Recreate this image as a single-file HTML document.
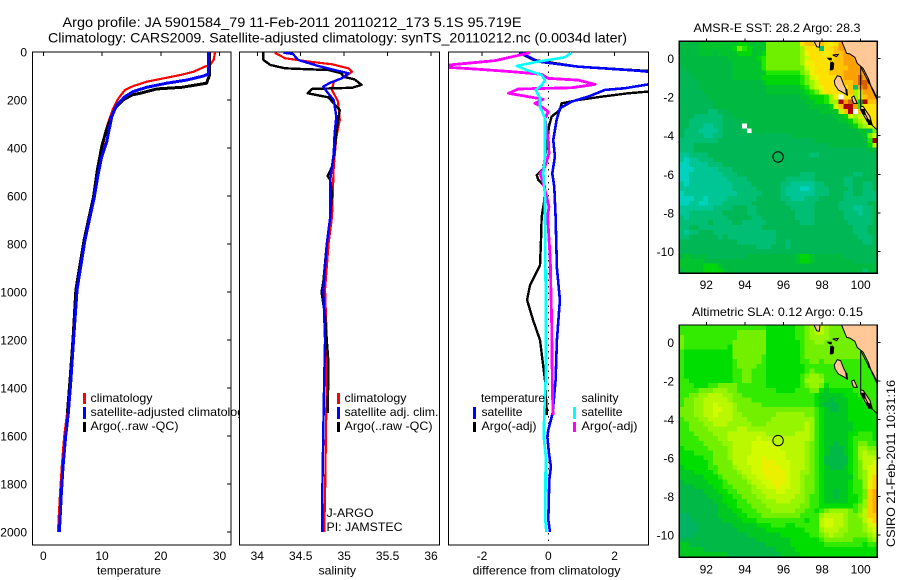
<!DOCTYPE html>
<html lang="en">
<head>
<meta charset="utf-8">
<title>Argo profile</title>
<style>
html,body{margin:0;padding:0;background:#fff;}
svg{display:block;font-family:"Liberation Sans",sans-serif;fill:#000;}
text{font-size:12px;}
.t{font-size:14px;}
</style>
</head>
<body>
<svg id="chart" width="900" height="580" viewBox="0 0 900 580" xmlns="http://www.w3.org/2000/svg">
<defs>
<clipPath id="clipT"><rect x="33" y="52" width="198" height="493"/></clipPath>
<clipPath id="clipS"><rect x="240" y="52" width="199" height="493"/></clipPath>
<clipPath id="clipD"><rect x="449" y="52" width="199" height="493"/></clipPath>
<clipPath id="clipLeg"><rect x="0" y="380" width="239" height="60"/></clipPath>
</defs>
<text class="t" x="62.5" y="27" textLength="459" lengthAdjust="spacingAndGlyphs">Argo profile: JA 5901584_79 11-Feb-2011 20110212_173 5.1S 95.719E</text>
<text class="t" x="48" y="42.5" textLength="579" lengthAdjust="spacingAndGlyphs">Climatology: CARS2009. Satellite-adjusted climatology: synTS_20110212.nc (0.0034d later)</text>
<g id="marks"></g>

<g clip-path="url(#clipLeg)">
<rect x="83" y="393" width="3" height="11" fill="#f00"/>
<rect x="83" y="407" width="3" height="12" fill="#00f"/>
<rect x="83" y="422" width="3" height="10" fill="#000"/>
<text x="90.5" y="402" textLength="62" lengthAdjust="spacingAndGlyphs">climatology</text>
<text x="90.5" y="416" textLength="160" lengthAdjust="spacingAndGlyphs">satellite-adjusted climatology</text>
<text x="90.5" y="430" textLength="88" lengthAdjust="spacingAndGlyphs">Argo(..raw -QC)</text>
</g>
<g>
<rect x="337" y="393" width="3" height="11" fill="#f00"/>
<rect x="337" y="407" width="3" height="12" fill="#00f"/>
<rect x="337" y="422" width="3" height="10" fill="#000"/>
<text x="344.5" y="402" textLength="62" lengthAdjust="spacingAndGlyphs">climatology</text>
<text x="344.5" y="416" textLength="94" lengthAdjust="spacingAndGlyphs">satellite adj. clim.</text>
<text x="344.5" y="430" textLength="88" lengthAdjust="spacingAndGlyphs">Argo(..raw -QC)</text>
<text x="326.5" y="517" textLength="47" lengthAdjust="spacingAndGlyphs">J-ARGO</text>
<text x="326.5" y="531" textLength="76" lengthAdjust="spacingAndGlyphs">PI: JAMSTEC</text>
</g>
<g>
<text x="481" y="402" textLength="64" lengthAdjust="spacingAndGlyphs">temperature</text>
<rect x="473" y="407" width="3" height="12" fill="#00f"/>
<rect x="473" y="422" width="3" height="10" fill="#000"/>
<text x="481.5" y="416" textLength="41" lengthAdjust="spacingAndGlyphs">satellite</text>
<text x="481.5" y="430" textLength="55" lengthAdjust="spacingAndGlyphs">Argo(-adj)</text>
<text x="581.5" y="402" textLength="37" lengthAdjust="spacingAndGlyphs">salinity</text>
<rect x="573" y="407" width="3" height="12" fill="#0ff"/>
<rect x="573" y="422" width="3" height="10" fill="#f0f"/>
<text x="581.5" y="416" textLength="41" lengthAdjust="spacingAndGlyphs">satellite</text>
<text x="581.5" y="430" textLength="56" lengthAdjust="spacingAndGlyphs">Argo(-adj)</text>
</g>

<text x="97" y="574.5" textLength="64" lengthAdjust="spacingAndGlyphs">temperature</text>
<text x="318.5" y="574.5" textLength="37.5" lengthAdjust="spacingAndGlyphs">salinity</text>
<text x="472.5" y="574.5" textLength="148" lengthAdjust="spacingAndGlyphs">difference from climatology</text>
<text x="693.5" y="32" textLength="167" lengthAdjust="spacingAndGlyphs">AMSR-E SST: 28.2 Argo: 28.3</text>
<text x="692" y="316" textLength="171" lengthAdjust="spacingAndGlyphs">Altimetric SLA: 0.12 Argo: 0.15</text>
<text transform="translate(895,547) rotate(-90)" textLength="167" lengthAdjust="spacingAndGlyphs">CSIRO 21-Feb-2011 10:31:16</text>
</svg>
<script>
/* ---------- shared axes ---------- */
const depthTicks = [0,200,400,600,800,1000,1200,1400,1600,1800,2000];
const tempTicks = [0,10,20,30];
const salTicks = [34,34.5,35,35.5,36];
const salTickLabels = ['34','34.5','35','35.5','36'];
const diffTicks = [-2,0,2];
const lonTicks = [92,94,96,98,100];
const latTicks = [0,-2,-4,-6,-8,-10];

/* ---------- temperature profiles ---------- */
const tempClimDepth = [0,33,54,61,82,96,110,124,142,158,193,235,290,339,436,505,603,783,990,1200,1367,1505,1603,1727,1840,1951,2000];
const tempClimValues = [29.25,29,28.4,27.5,25.6,23.3,20.4,17.6,15.3,13.9,12.8,11.9,11.1,10.5,9.9,9.2,8.5,7,5.6,5,4.5,4.05,3.55,3.15,2.85,2.6,2.5];
const tempSatDepth = [0,92,100,117,130,147,165,186,221,270,374,436,505,603,783,990,1200,1367,1505,1603,1727,1840,1951,2000];
const tempSatValues = [28.1,28.1,27.3,24.4,21,17.6,15.3,13.9,12.5,11.65,10.8,9.95,9.37,8.7,7.1,5.75,5.15,4.7,4.26,3.8,3.36,3.07,2.84,2.73];
const tempArgoDepth = [0,96,130,147,154,172,179,200,235,283,319,394,492,603,783,990,1200,1367,1505];
const tempArgoValues = [28.3,28.3,27.8,23.6,19.3,16.5,15.1,13.6,12.2,11.4,10.8,9.95,9.2,8.55,6.95,5.55,5.05,4.55,4.1];

/* ---------- salinity profiles ---------- */
const salClimDepth = [3,26,40,51,68,82,103,124,158,207,283,353,478,686,800,990,1200,1367,1600,1850,2000];
const salClimValues = [34.2,34.32,34.59,34.86,35.05,35.09,35.01,34.88,34.86,34.93,34.95,34.91,34.88,34.86,34.82,34.78,34.8,34.8,34.79,34.78,34.77];
const salSatDepth = [3,8,33,58,82,89,110,128,144,165,200,269,339,422,478,533,686,800,990,1200,1367,1575,1800,2000];
const salSatValues = [34.3,34.41,34.47,34.7,34.97,35.05,34.97,34.84,34.76,34.8,34.88,34.91,34.89,34.88,34.86,34.84,34.84,34.8,34.76,34.78,34.77,34.76,34.75,34.75];
const salArgoDepth = [3,33,54,68,72,75,89,103,114,137,149,154,172,189,214,242,283,339,408,478,517,533,589,686,800,960,1000,1100,1300,1505];
const salArgoValues = [34.07,34.07,34.15,34.32,34.59,34.82,34.97,34.99,35.12,35.2,35.09,34.63,34.58,34.82,34.88,34.95,34.93,34.91,34.89,34.86,34.81,34.84,34.86,34.84,34.8,34.76,34.74,34.78,34.82,34.81];

/* ---------- differences from climatology ---------- */
const diffTempSatDepth = [3,40,61,78,82,100,120,135,151,158,186,207,235,283,367,436,506,561,686,900,1033,1200,1367,1505,1575,1603,1672,1728,1783,1950,2000];
const diffTempSatValues = [-0.85,-0.3,0.9,2.71,3.01,5,4,3.01,2.31,1.71,1.2,0.7,0.35,0.25,0.15,0.2,0.12,0.18,0.22,0.26,0.35,0.26,0.22,0.13,0,-0.03,0.02,0.08,0.03,0,0.05];
const diffTempArgoDepth = [3,33,61,79,100,130,165,172,186,200,214,242,269,311,394,436,485,513,533,561,617,686,783,888,971,1033,1117,1200,1367,1512];
const diffTempArgoValues = [-0.88,-0.45,0.9,3.01,5,6,3.01,2.41,1.61,0.9,0.4,0.35,0.1,0.02,-0.05,-0.1,-0.15,-0.35,-0.3,-0.1,-0.12,-0.2,-0.22,-0.25,-0.55,-0.64,-0.46,-0.25,-0.1,-0.04];
const diffSalSatDepth = [3,22,40,58,75,96,117,138,158,193,228,276,367,436,506,603,686,1000,1367,1500,1600,1680,1950,2000];
const diffSalSatValues = [0.7,0.5,-0.3,-0.95,-0.65,-0.2,-0.1,-0.2,-0.38,-0.25,-0.25,-0.1,-0.1,-0.1,-0.15,-0.1,-0.1,-0.08,-0.08,-0.12,-0.14,-0.08,-0.09,-0.06];
const diffSalArgoDepth = [3,36,54,64,72,82,93,110,117,135,149,154,172,197,214,228,249,276,367,422,478,506,547,603,644,686,870,1000,1117,1367,1512];
const diffSalArgoValues = [-0.55,-1.61,-2.99,-2.99,-2.11,-1.1,-0.2,0,0.9,1.41,0.7,-0.9,-1.2,-0.15,-0.4,-0.2,0,-0.1,0,0.02,-0.1,-0.25,-0.15,-0.05,0.02,-0.02,0.06,0.08,0.1,0.12,0.14];

/* ---------- map colour levels (−1 = missing, drawn white) ---------- */
const levelColors = ['#00d2be','#00c696','#00be73','#00b755','#00b941','#00c32d','#00d70a','#1ee800','#6ef000','#a0f500','#cdfa00','#f0f000','#ffe100','#ffc300','#faa000','#d75f00','#af0000'];
const slaLevelColors = ['#00d2be','#00c696','#00be73','#00b464','#00b946','#00c823','#00de00','#32eb00','#73f000','#96f500','#b9f800','#d2fa00','#ebf000','#ffcd00','#ffaa00','#d75f00','#af0000'];

const sstGrid = [
[4,4,4,4,5,5,5,5,5,5,5,5,6,6,5,5,5,5,8,8,8,8,8,8,8,12,13,13,12,13,12,11,12,14,14,14,14,14,14,14,14],
[4,4,4,4,5,5,5,5,5,5,5,6,8,7,6,5,5,5,8,8,8,8,8,8,8,9,12,12,12,2,12,12,13,14,14,14,14,14,14,14,14],
[4,4,4,4,5,5,5,4,5,5,5,5,6,6,6,5,5,6,8,8,8,8,8,8,8,9,11,12,12,12,11,12,13,13,14,14,14,14,14,14,14],
[4,4,4,4,4,4,4,4,4,4,5,5,5,5,5,5,6,7,8,8,8,8,8,8,8,9,10,12,12,12,12,12,13,13,14,14,14,14,14,14,14],
[4,4,4,4,4,4,4,4,4,4,4,5,5,5,5,5,5,7,8,8,8,8,8,8,8,9,11,11,12,12,12,12,13,13,14,14,14,14,14,14,14],
[3,4,4,4,4,4,4,4,4,4,4,5,5,5,5,5,5,7,8,8,8,8,8,8,8,8,10,11,12,12,12,12,13,13,13,14,14,14,14,14,14],
[3,3,4,4,4,4,4,4,4,4,4,5,5,5,5,5,5,5,7,7,7,7,7,7,7,8,9,11,12,12,12,13,13,13,14,14,14,14,14,14,14],
[3,3,3,4,4,4,4,4,4,4,4,5,5,5,5,5,5,6,6,6,6,6,6,6,6,7,8,10,11,12,12,12,12,13,14,14,14,15,14,14,14],
[3,3,3,3,4,4,4,4,4,4,4,4,4,4,4,4,4,5,6,6,6,6,6,6,6,7,8,9,10,12,12,12,12,13,13,13,14,15,15,14,14],
[3,3,3,3,4,4,4,4,4,4,4,4,4,4,4,4,4,4,5,5,5,5,5,5,5,6,7,9,10,11,12,12,12,12,12,13,2,14,15,14,14],
[3,3,3,3,3,4,4,4,4,4,4,4,4,4,4,4,4,4,5,5,5,5,5,5,5,5,6,7,8,10,12,12,12,12,12,13,9,10,14,14,14],
[3,3,3,3,3,3,4,4,4,4,4,4,4,4,4,4,4,4,4,4,4,4,4,4,4,5,5,6,6,6,7,9,11,-1,12,12,9,10,13,14,14],
[3,3,3,3,3,3,3,4,4,4,4,4,4,4,4,4,4,4,4,4,4,4,4,4,4,4,5,5,6,6,7,9,9,16,14,15,14,5,16,13,13],
[3,3,3,3,3,3,3,4,4,4,4,4,4,4,4,4,4,4,4,4,4,4,4,4,4,4,4,5,5,5,5,6,10,13,16,16,14,7,12,12,12],
[3,3,3,3,3,3,2,2,3,3,4,4,4,4,4,4,4,4,4,4,4,4,4,4,4,4,4,4,4,5,5,5,5,10,13,16,-1,13,12,12,12],
[3,3,3,2,2,2,2,2,2,3,3,4,4,4,4,4,4,4,4,4,4,4,4,4,4,4,4,4,4,4,4,4,5,5,6,10,9,10,12,12,12],
[3,3,2,2,2,2,2,2,2,3,3,3,3,4,4,4,4,4,4,4,4,4,4,4,4,4,4,4,4,4,4,4,4,5,5,6,8,9,10,11,12],
[3,3,2,2,2,1,1,2,2,3,3,3,3,-1,4,4,4,4,4,4,4,4,4,4,4,4,4,4,4,4,4,4,4,4,4,5,6,8,9,10,12],
[3,2,2,2,1,1,1,1,2,3,3,3,3,3,-1,4,4,4,4,4,4,4,4,4,4,4,4,4,4,4,4,4,4,4,4,4,4,5,5,3,8],
[3,2,2,2,2,1,1,2,2,3,3,3,3,3,3,3,3,3,3,3,3,3,3,4,4,4,4,4,4,4,4,4,4,4,4,4,4,4,5,8,10],
[2,2,2,2,2,2,2,2,3,3,3,3,3,3,3,3,3,3,3,3,3,3,3,3,3,3,3,3,4,4,4,4,4,4,4,4,4,4,4,7,16],
[2,2,2,3,3,3,3,3,3,3,3,3,3,3,3,3,3,3,3,3,3,3,3,3,3,3,3,3,3,3,3,4,4,4,4,4,4,4,4,6,10],
[2,2,2,3,3,3,3,3,3,3,3,3,3,3,3,3,3,3,3,3,3,3,3,3,3,3,3,3,3,3,3,3,3,3,3,3,3,3,3,4,4],
[1,1,2,2,2,2,3,3,3,3,3,3,3,3,3,3,3,3,3,3,3,3,3,3,3,3,3,2,2,3,3,3,3,3,3,3,3,3,3,3,3],
[1,0,1,1,2,2,2,3,3,3,3,3,3,3,3,3,3,3,3,3,3,3,3,3,3,3,3,3,3,3,3,3,3,3,3,3,3,3,3,3,3],
[0,0,1,1,1,1,2,2,2,3,3,3,3,3,3,3,3,3,3,3,3,3,3,3,3,3,3,3,3,3,3,3,3,3,3,3,3,3,3,3,3],
[0,0,0,1,1,1,1,1,2,2,2,3,3,3,3,3,3,3,3,3,3,3,3,3,3,3,3,3,3,3,3,3,3,3,3,3,3,3,3,3,3],
[0,0,1,1,1,1,1,1,1,2,2,2,3,3,3,3,3,3,3,3,3,3,3,3,3,2,2,2,3,3,3,3,3,3,3,3,2,2,3,3,3],
[0,0,1,1,1,1,1,1,1,1,2,2,2,2,3,3,3,3,3,3,3,3,2,2,2,2,2,2,3,3,3,3,3,3,2,2,3,3,3,3,3],
[1,0,1,1,1,1,1,1,1,1,1,2,2,2,2,3,3,3,3,3,3,2,2,1,1,1,1,1,2,2,3,3,3,3,2,2,3,3,2,2,3],
[1,1,1,1,1,1,1,1,1,1,1,2,2,2,2,2,3,3,3,3,3,2,1,1,1,0,0,1,2,2,2,3,3,3,3,2,3,3,2,2,3],
[0,1,1,1,1,1,1,1,1,1,1,1,2,2,2,2,2,3,3,3,3,2,1,1,1,1,1,1,2,2,2,3,3,3,2,2,3,3,2,2,2],
[0,0,0,1,1,0,1,1,1,1,2,2,2,2,2,2,3,3,3,3,3,2,2,1,1,1,2,2,2,3,3,3,3,3,2,2,2,2,2,2,2],
[0,0,1,1,0,0,1,1,1,2,2,2,2,2,2,3,3,3,3,3,3,3,2,2,2,2,2,2,3,3,3,3,3,2,2,2,2,2,2,3,3],
[1,1,1,1,1,1,1,2,2,2,2,3,3,3,2,2,3,3,3,3,3,3,3,2,2,2,2,2,3,3,3,3,3,2,2,2,1,1,2,2,3],
[1,1,2,2,2,2,2,2,2,3,3,3,3,3,2,2,3,3,3,3,3,3,3,3,2,2,2,2,3,3,3,3,3,3,2,2,2,1,2,2,3],
[2,1,2,2,2,2,2,2,2,2,3,3,3,3,3,2,2,3,3,3,3,3,3,3,2,2,2,2,3,3,3,3,3,3,2,2,2,2,2,2,3],
[2,2,2,2,2,2,3,2,2,2,2,3,3,2,2,2,2,2,3,3,3,3,3,3,3,2,2,2,3,3,3,3,3,3,3,2,2,2,2,2,3],
[2,2,3,3,2,2,2,2,2,2,2,2,2,2,2,2,2,3,3,3,3,3,3,3,3,3,3,3,3,3,3,3,3,3,3,3,2,2,2,3,3],
[2,1,2,2,3,3,3,2,2,2,2,2,2,2,2,2,2,2,2,2,3,3,3,3,3,3,3,3,3,3,3,3,3,3,3,3,2,2,2,3,3],
[2,2,3,3,3,3,3,3,2,3,2,2,2,2,2,2,2,2,2,2,3,3,3,3,3,3,3,3,3,3,3,3,3,3,3,3,3,2,2,2,3],
[3,3,3,3,3,3,3,3,3,3,3,3,2,2,2,2,2,2,2,2,3,3,2,3,3,3,3,3,3,3,3,3,3,3,3,3,3,3,2,2,3],
[3,3,3,3,3,3,3,3,3,3,3,3,3,3,3,3,2,2,2,3,3,3,2,3,3,3,3,3,3,3,3,3,3,3,3,3,3,3,3,3,3],
[3,3,3,3,3,3,3,3,3,3,3,3,3,3,3,3,3,3,3,3,3,3,3,3,3,3,3,3,3,3,3,3,3,3,3,3,3,3,3,3,3],
[4,5,4,4,4,4,3,3,3,3,3,3,3,3,4,4,4,4,4,4,4,4,4,4,5,6,6,5,4,4,4,4,4,4,3,3,3,3,3,3,3],
[5,5,5,5,5,4,4,4,4,4,4,4,4,4,4,4,4,4,4,4,4,4,4,4,5,6,6,5,4,4,4,4,4,4,4,4,3,3,3,3,3],
[5,5,5,5,5,6,6,6,5,4,4,4,4,4,4,4,4,4,4,4,4,4,4,4,4,4,4,4,4,4,4,4,4,4,4,4,4,4,4,4,4],
[4,5,5,5,5,6,6,6,6,5,4,4,4,4,4,4,4,4,4,4,4,4,4,4,4,4,4,4,4,4,4,4,4,4,4,4,4,4,2,4,4]
];

const slaGrid = [
[7,7,7,7,7,7,7,7,7,7,7,7,7,7,7,7,7,7,6,6,6,6,6,6,7,7,8,9,9,10,9,8,8,8,8,8,8,8,8,8,8],
[7,7,7,7,7,7,7,7,7,7,7,7,8,8,8,8,8,8,6,6,6,6,6,6,7,7,8,9,10,10,9,8,8,8,8,8,8,8,8,8,8],
[8,7,7,7,7,7,7,7,7,7,7,7,8,8,8,8,8,8,6,6,6,6,6,6,7,7,8,9,9,9,9,8,8,8,8,8,8,8,8,8,8],
[8,7,7,7,7,7,7,7,7,7,7,8,8,8,8,8,8,8,6,6,6,6,6,6,6,7,8,8,9,9,8,8,8,8,8,8,8,8,8,8,8],
[8,7,7,7,7,7,7,7,7,7,6,8,8,8,8,8,8,8,6,6,6,6,6,6,6,7,8,8,8,8,8,8,8,8,8,8,8,8,8,8,8],
[7,6,6,6,6,6,6,6,6,6,6,8,8,8,8,8,8,8,6,6,6,6,6,6,6,7,8,8,8,8,8,8,8,8,8,8,8,8,8,8,8],
[7,6,6,6,6,6,6,6,6,6,6,8,8,8,8,8,8,7,6,6,6,6,6,6,6,7,8,8,8,8,8,8,8,8,8,8,8,8,8,8,8],
[7,6,6,6,6,6,6,6,6,6,6,7,8,8,8,8,8,7,6,6,6,6,6,6,6,7,7,8,8,7,8,8,8,7,7,7,7,7,7,7,7],
[7,6,6,6,6,6,6,6,6,6,6,7,8,8,8,8,7,7,6,6,6,6,6,6,6,6,7,7,7,7,7,7,7,7,7,7,7,7,7,7,7],
[7,6,6,6,6,6,6,6,6,6,6,7,7,8,8,7,7,7,6,6,6,6,6,6,6,6,7,8,7,7,7,7,7,7,7,7,7,7,7,7,7],
[7,6,6,6,6,6,6,6,6,6,6,7,7,8,8,7,7,7,6,6,6,6,6,6,6,7,8,9,9,8,7,7,7,7,7,7,7,7,7,7,7],
[7,7,6,6,6,6,6,6,6,6,6,7,7,8,8,7,7,7,6,6,6,6,6,6,6,7,9,9,9,9,7,7,7,7,7,7,7,7,7,7,7],
[7,7,7,6,6,6,7,7,8,8,8,8,7,7,7,7,7,7,6,6,6,6,6,6,6,7,8,9,9,8,6,7,7,7,7,7,7,7,7,7,7],
[7,7,7,7,8,8,8,9,9,9,8,8,7,7,7,7,7,7,7,7,6,6,6,6,7,7,7,8,8,6,5,6,6,6,6,6,7,7,7,7,7],
[7,7,8,8,9,9,10,10,10,9,9,8,8,7,7,7,7,7,7,7,7,7,7,7,7,7,7,7,6,5,5,5,5,5,6,6,6,7,7,7,7],
[7,8,8,9,9,10,10,10,10,10,9,8,8,8,8,7,7,7,7,7,7,7,7,7,7,7,7,7,6,5,5,4,5,5,5,6,6,6,7,7,7],
[7,8,8,9,9,10,10,11,10,10,10,9,8,8,8,8,8,7,7,7,7,7,7,7,7,7,7,7,6,5,4,4,4,5,5,6,6,6,6,7,7],
[8,8,8,9,9,10,10,11,11,10,10,9,8,8,8,8,8,8,8,8,8,8,8,8,8,8,8,8,7,6,5,4,4,5,5,6,6,6,6,6,7],
[8,8,8,9,9,10,10,11,10,10,10,9,9,8,8,8,8,8,8,8,9,9,9,9,9,9,8,8,7,6,5,5,5,5,5,6,6,6,6,6,6],
[7,8,8,8,9,9,10,10,10,10,10,9,9,9,8,8,8,8,8,9,9,9,9,9,9,9,9,9,7,6,5,5,5,5,5,6,6,6,6,6,6],
[7,7,8,8,8,9,9,10,10,10,9,9,9,9,9,8,8,8,9,9,9,9,9,9,9,9,10,9,7,6,5,5,5,5,5,5,6,6,6,6,6],
[7,7,8,8,8,8,9,9,9,9,9,9,10,10,9,9,9,9,9,9,9,9,9,9,9,9,10,9,7,6,5,5,5,5,5,5,6,6,6,6,6],
[7,7,7,8,8,8,8,9,9,9,10,10,10,10,10,10,10,10,9,9,9,9,9,9,10,10,10,9,7,6,5,5,5,5,5,6,6,7,7,7,6],
[7,7,7,7,8,8,8,8,9,9,10,10,10,10,10,10,11,10,10,10,10,10,10,10,10,10,10,9,7,6,5,5,5,5,5,6,7,7,7,7,6],
[7,7,7,7,7,8,8,8,8,9,9,10,10,10,10,11,11,11,11,10,10,10,10,10,10,10,9,8,7,6,5,5,4,5,5,6,7,8,8,7,7],
[6,7,7,7,7,7,8,8,8,8,9,10,10,10,10,11,11,11,11,11,11,10,10,10,10,10,9,8,7,6,5,4,4,4,5,6,7,9,9,8,8],
[6,6,6,7,7,7,7,8,8,8,9,10,10,10,10,11,11,11,11,11,11,11,10,10,10,10,9,8,7,6,5,4,4,4,5,6,7,9,10,9,9],
[6,6,6,6,6,7,7,8,8,8,9,10,10,10,11,11,11,12,11,11,11,11,10,10,10,10,9,8,7,6,4,4,4,4,4,6,7,9,10,10,10],
[6,6,6,6,6,6,7,8,8,8,8,10,10,10,11,11,11,12,12,12,11,11,11,10,10,10,9,8,7,6,4,4,4,4,4,6,7,8,10,10,11],
[5,6,6,6,6,6,7,7,8,8,8,9,10,10,10,11,11,12,12,12,12,11,11,10,10,10,9,8,7,6,5,4,4,4,5,6,7,8,10,11,12],
[5,5,5,6,6,6,6,7,8,8,8,8,9,10,10,11,11,12,12,12,12,12,11,10,10,9,9,8,7,6,5,5,5,5,5,6,7,8,9,11,12],
[5,5,5,5,5,6,6,6,7,8,8,8,8,9,10,10,11,11,12,12,12,12,11,10,10,9,8,8,7,6,5,5,5,5,5,5,7,8,9,11,13],
[4,5,5,5,5,5,6,6,6,7,8,8,8,8,9,10,10,11,11,12,12,12,11,10,10,9,8,8,7,6,5,5,5,5,5,6,7,7,9,12,13],
[4,4,4,5,5,5,5,6,6,7,7,8,8,8,8,9,10,10,11,11,12,11,11,10,10,9,8,8,7,6,5,5,5,5,5,6,7,7,9,12,13],
[4,4,4,4,4,5,5,5,6,6,7,7,8,8,8,9,9,10,10,10,11,11,10,10,10,9,8,8,7,6,5,5,4,5,5,6,7,7,8,13,14],
[4,4,4,4,4,4,5,5,5,6,6,7,7,8,8,8,9,9,10,10,10,10,10,10,9,9,8,7,7,6,5,5,4,5,5,6,6,7,8,13,14],
[4,4,4,4,4,4,4,5,5,6,6,6,7,7,8,8,8,9,9,9,10,10,10,9,9,9,8,7,7,6,5,5,5,5,5,6,6,7,9,13,14],
[4,4,4,4,4,4,4,4,5,5,6,6,7,7,7,8,8,8,9,9,9,9,9,9,9,8,8,7,7,6,6,6,6,6,6,6,7,8,9,13,14],
[4,4,4,4,4,4,4,4,5,5,5,6,6,7,7,7,8,8,8,9,9,9,9,9,8,8,7,7,6,7,8,9,9,9,9,8,7,8,10,13,14],
[3,3,4,4,4,4,4,4,5,5,5,5,6,6,7,7,7,8,8,8,8,8,8,8,8,7,7,7,7,9,10,10,10,10,9,8,8,9,10,13,13],
[3,3,3,4,4,4,4,4,4,5,5,5,5,6,6,6,7,7,7,7,7,7,7,7,7,7,6,7,7,10,11,11,10,10,9,8,8,8,10,12,13],
[3,3,3,3,4,4,4,4,4,4,4,5,5,5,5,5,6,6,6,7,7,7,6,6,7,7,7,7,7,10,11,11,10,10,9,8,8,8,9,11,12],
[3,3,3,3,4,4,4,4,4,4,4,4,5,5,5,5,5,5,6,6,6,6,6,6,6,6,7,7,7,9,10,10,10,9,9,8,8,8,9,10,11],
[3,3,3,4,4,4,4,4,4,4,4,4,4,4,5,5,5,5,5,5,5,6,6,6,6,6,6,7,7,8,9,10,9,9,8,8,8,8,8,9,10],
[4,4,4,4,4,4,4,4,4,4,4,4,4,4,4,4,5,5,5,5,5,5,5,6,6,6,6,6,6,7,8,8,8,8,8,8,7,7,7,8,9],
[5,5,4,4,4,4,4,4,4,4,4,4,4,4,4,4,4,4,5,5,5,5,5,6,6,6,6,6,6,6,7,7,7,7,7,7,7,7,6,7,7],
[5,5,5,5,5,4,4,4,4,4,4,4,4,4,4,4,4,4,4,4,5,5,5,5,6,6,6,6,6,6,6,6,6,6,6,6,6,6,6,6,6],
[5,5,5,5,5,5,5,5,5,5,4,4,4,4,4,4,4,4,4,4,4,5,5,5,5,6,6,6,6,6,6,6,6,6,6,6,6,6,6,6,6]
];

/* ---------- map geography (lon, lat) ---------- */
const landShapes = [
[[99.01,0.9],[99.27,0.26],[99.44,0.22],[99.7,0.05],[99.82,-0.26],[100.13,-0.52],[100.39,-1.03],[100.57,-1.55],[100.86,-2.16],[100.9,0.9]],
[[98.63,-1.16],[98.79,-0.9],[98.96,-0.95],[99.13,-1.38],[99.27,-1.64],[99.31,-1.91],[99.1,-1.78],[98.84,-1.64],[98.67,-1.38]],
[[99.53,-2.02],[99.65,-1.95],[99.82,-2.33],[99.62,-2.33]],
[[100,-2.47],[100.13,-2.5],[100.48,-3.02],[100.57,-3.36],[100.34,-3.28],[100,-2.67]],
[[97.58,0.9],[97.89,0.9],[97.85,0.57],[97.72,0.6]],
[[98.55,0.17],[98.84,0.2],[98.75,0.09]],
[[98.45,-0.2],[98.6,-0.25],[98.58,-0.55],[98.45,-0.6]]
];
const reefShapes = [
[[98.23,0.03],[98.49,0.03],[98.52,-0.2],[98.42,-0.25],[98.4,-0.62],[98.55,-0.62],[98.61,-0.34],[98.5,-0.1],[98.37,-0.1]],
[[99.2,-1.58],[99.31,-1.6],[99.33,-1.95],[99.24,-1.9]],
[[100,-2.62],[100.2,-2.62],[100.28,-2.95],[100.1,-2.9]],
[[100.28,-3.1],[100.55,-3.2],[100.62,-3.45],[100.4,-3.45]],
[[100.35,-1.1],[100.45,-1.1],[100.5,-1.35],[100.38,-1.3]]
];
const depthContours = [
[[100,-0.43],[100,-2.5]],
[[100,-0.43],[100.39,-1.2],[100.66,-1.65],[100.86,-2.1]],
[[100.13,-2.67],[100.48,-3.36],[100.86,-3.71]]
];
const floatLon = 95.72;
const floatLat = -5.1;

/* ---------- helpers ---------- */
const NS = 'http://www.w3.org/2000/svg';
const root = document.getElementById('marks');
function scale(v0, p0, v1, p1) { return v => p0 + (v - v0) * (p1 - p0) / (v1 - v0); }
const yDepth = scale(0, 52, 2000, 532);
const xTemp = scale(0, 43.3, 30, 219.5);
const xSal = scale(34, 257.3, 36, 431);
const xDiff = scale(-2, 482, 2, 614.6);

function add(tag, parent) {
  const el = document.createElementNS(NS, tag);
  parent.appendChild(el);
  return el;
}
function drawLine(parent, pts, color, width) {
  const el = add('polyline', parent);
  el.setAttribute('points', pts.map(p => p[0].toFixed(2) + ',' + p[1].toFixed(2)).join(' '));
  el.setAttribute('fill', 'none');
  el.setAttribute('stroke', color);
  el.setAttribute('stroke-width', width);
  el.setAttribute('stroke-linejoin', 'round');
  el.setAttribute('shape-rendering', 'crispEdges');
  return el;
}
function profile(parent, depths, values, xf, color, width, name) {
  const el = drawLine(parent, values.map((v, i) => [xf(v), yDepth(depths[i])]), color, width);
  
  
}
function tickMark(parent, x1, y1, x2, y2) {
  const el = add('line', parent);
  el.setAttribute('x1', x1); el.setAttribute('y1', y1);
  el.setAttribute('x2', x2); el.setAttribute('y2', y2);
  el.setAttribute('stroke', '#000');
  el.setAttribute('shape-rendering', 'crispEdges');
  
  
}
function label(parent, x, y, txt, anchor) {
  const el = add('text', parent);
  el.setAttribute('x', x);
  el.setAttribute('y', y);
  el.setAttribute('text-anchor', anchor);
  el.textContent = txt;
  
  
}
function frame(parent, x, y, w, h) {
  const el = add('rect', parent);
  el.setAttribute('x', x); el.setAttribute('y', y);
  el.setAttribute('width', w); el.setAttribute('height', h);
  el.setAttribute('fill', 'none');
  el.setAttribute('stroke', '#000');
  el.setAttribute('stroke-width', '1.4');
  el.setAttribute('shape-rendering', 'crispEdges');
  
  
}
function panelGroup(name, clip) {
  const g = add('g', root);
  
  
  if (clip) g.setAttribute('clip-path', 'url(#' + clip + ')');
  return g;
}

/* ---------- temperature panel ---------- */
const gT = panelGroup('temperature-panel');
const gTm = panelGroup('temperature-series', 'clipT');
profile(gTm, tempClimDepth, tempClimValues, xTemp, '#f00', 2.2, 'temperature-climatology-line');
profile(gTm, tempArgoDepth, tempArgoValues, xTemp, '#000', 3, 'temperature-argo-line');
profile(gTm, tempSatDepth, tempSatValues, xTemp, '#00f', 3, 'temperature-satellite-line');
frame(gT, 32.5, 52, 198.5, 493);
tempTicks.forEach(v => { tickMark(gT, xTemp(v), 52, xTemp(v), 56); label(gT, xTemp(v), 560, String(v), 'middle'); });
depthTicks.forEach(d => { tickMark(gT, 227, yDepth(d), 231, yDepth(d)); label(gT, 27, yDepth(d) + 4.5, String(d), 'end'); });

/* ---------- salinity panel ---------- */
const gS = panelGroup('salinity-panel');
const gSm = panelGroup('salinity-series', 'clipS');
profile(gSm, salClimDepth, salClimValues, xSal, '#f00', 2.2, 'salinity-climatology-line');
profile(gSm, salArgoDepth, salArgoValues, xSal, '#000', 2.4, 'salinity-argo-line');
profile(gSm, salSatDepth, salSatValues, xSal, '#00f', 2.4, 'salinity-satellite-line');
frame(gS, 239.5, 52, 200, 493);
salTicks.forEach((v, i) => { tickMark(gS, xSal(v), 52, xSal(v), 56); label(gS, xSal(v), 560, salTickLabels[i], 'middle'); });

/* ---------- difference panel ---------- */
const gD = panelGroup('difference-panel');
const gDm = panelGroup('difference-series', 'clipD');
const zeroDepth = [0, 2040];
const zeroLine = drawLine(gDm, zeroDepth.map(d => [xDiff(0), yDepth(d)]), '#000', 1);
zeroLine.setAttribute('stroke-dasharray', '1.5 5');


profile(gDm, diffTempArgoDepth, diffTempArgoValues, xDiff, '#000', 2.4, 'difference-temp-argo-line');
profile(gDm, diffTempSatDepth, diffTempSatValues, xDiff, '#00f', 2.6, 'difference-temp-satellite-line');
profile(gDm, diffSalArgoDepth, diffSalArgoValues, xDiff, '#f0f', 2.8, 'difference-sal-argo-line');
profile(gDm, diffSalSatDepth, diffSalSatValues, xDiff, '#0ff', 2.6, 'difference-sal-satellite-line');
frame(gD, 448.5, 52, 200, 493);
diffTicks.forEach(v => { tickMark(gD, xDiff(v), 52, xDiff(v), 56); label(gD, xDiff(v), 560, String(v), 'middle'); });

/* ---------- maps ---------- */
const lonEdge = 90.6;
const latEdge = 0.88;
const cellSize = 0.25;
function drawMap(name, grid, colors, top, bottom, zeroY, tenY, labelY) {
  const g = panelGroup(name);
  const xLon = scale(92, 706.3, 100, 860.7);
  const yLat = scale(0, zeroY, -10, tenY);
  const left = 679.3, right = 877.3;
  const bg = add('rect', g);
  bg.setAttribute('x', left); bg.setAttribute('y', top);
  bg.setAttribute('width', right - left); bg.setAttribute('height', bottom - top);
  bg.setAttribute('fill', '#00b755');
  
  
  grid.forEach((row, r) => row.forEach((v, c) => {
    const x0 = xLon(lonEdge + c * cellSize), x1 = xLon(lonEdge + (c + 1) * cellSize);
    const y0 = yLat(latEdge - r * cellSize), y1 = yLat(latEdge - (r + 1) * cellSize);
    const cell = add('rect', g);
    cell.setAttribute('x', x0.toFixed(2));
    cell.setAttribute('y', y0.toFixed(2));
    cell.setAttribute('width', (x1 - x0 + 0.3).toFixed(2));
    cell.setAttribute('height', (y1 - y0 + 0.3).toFixed(2));
    cell.setAttribute('fill', v < 0 ? '#fff' : colors[v]);
    cell.setAttribute('shape-rendering', 'crispEdges');
    
    
  }));
  const clipId = name + '-clip';
  const cp = add('clipPath', g);
  cp.setAttribute('id', clipId);
  const cr = add('rect', cp);
  cr.setAttribute('x', left); cr.setAttribute('y', top);
  cr.setAttribute('width', right - left); cr.setAttribute('height', bottom - top);
  const geo = add('g', g);
  geo.setAttribute('clip-path', 'url(#' + clipId + ')');
  
  
  landShapes.forEach(s => {
    const p = add('polygon', geo);
    p.setAttribute('points', s.map(q => xLon(q[0]).toFixed(1) + ',' + yLat(q[1]).toFixed(1)).join(' '));
    p.setAttribute('fill', '#ffc896');
    p.setAttribute('stroke', '#000');
    p.setAttribute('stroke-width', '1');
    
    
  });
  reefShapes.forEach(s => {
    const p = add('polygon', geo);
    p.setAttribute('points', s.map(q => xLon(q[0]).toFixed(1) + ',' + yLat(q[1]).toFixed(1)).join(' '));
    p.setAttribute('fill', '#000');
    
    
  });
  depthContours.forEach(s => {
    const l = drawLine(geo, s.map(q => [xLon(q[0]), yLat(q[1])]), '#000', 1);
    l.removeAttribute('shape-rendering');
    
    
  });
  const ring = add('circle', g);
  ring.setAttribute('cx', xLon(floatLon));
  ring.setAttribute('cy', yLat(floatLat));
  ring.setAttribute('r', '5.2');
  ring.setAttribute('fill', 'none');
  ring.setAttribute('stroke', '#000');
  ring.setAttribute('stroke-width', '1');
  
  
  frame(g, left, top, right - left, bottom - top);
  lonTicks.forEach(v => { tickMark(g, xLon(v), top - 3, xLon(v), top); label(g, xLon(v), labelY, String(v), 'middle'); });
  latTicks.forEach(v => { tickMark(g, right, yLat(v), right + 3, yLat(v)); label(g, 674, yLat(v) + 4.5, String(v), 'end'); });
}
drawMap('sst-map', sstGrid, levelColors, 41.3, 273.3, 58.3, 251.7, 289);
drawMap('sla-map', slaGrid, slaLevelColors, 325, 557.3, 342.3, 535, 573.5);
</script>
</body>
</html>
